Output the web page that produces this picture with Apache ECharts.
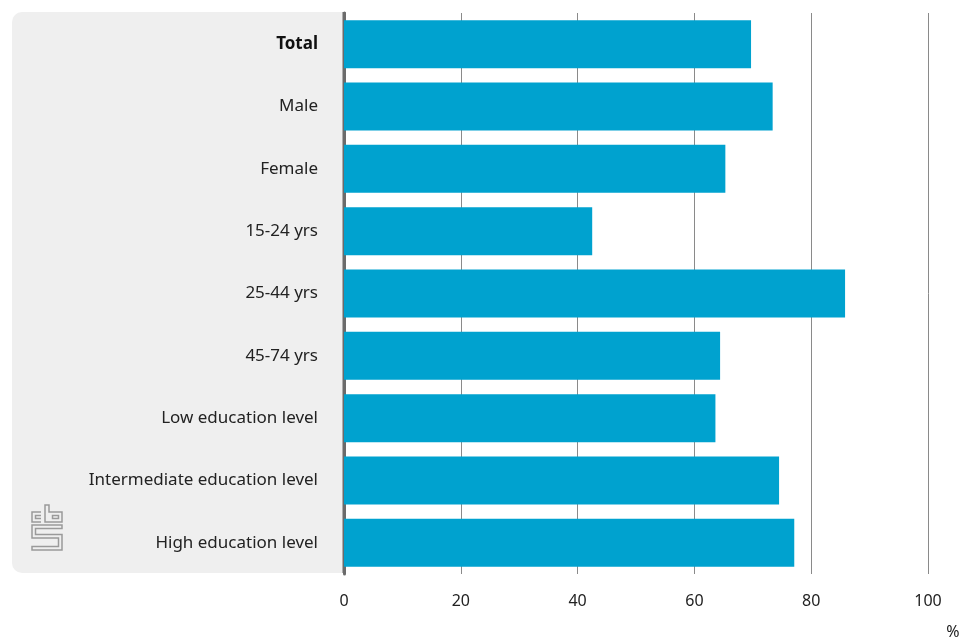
<!DOCTYPE html>
<html>
<head>
<meta charset="utf-8">
<script src="https://cdn.jsdelivr.net/npm/echarts@6/dist/echarts.min.js"></script>
<style>html,body{margin:0;padding:0;background:#fff}#c{width:963px;height:639px}</style>
</head>
<body>
<div id="c"></div>
<script>
const categories = ['Total','Male','Female','15-24 yrs','25-44 yrs','45-74 yrs','Low education level','Intermediate education level','High education level'];
const values = [69.7, 73.4, 65.3, 42.5, 85.8, 64.4, 63.6, 74.5, 77.1];
const xTicks = [0, 20, 40, 60, 80, 100];
const unitLabel = '%';

const chart = echarts.init(document.getElementById('c'), null, {renderer:'canvas'});
const FONT = 'Noto Sans';
const logoStyle = {stroke:'#9a9a9a', fill:'none', lineWidth:1.5};
chart.setOption({
  animation:false,
  backgroundColor:'#fff',
  grid:{left:344, right:35, top:13, bottom:65, containLabel:false},
  graphic:[
    {type:'rect', z:-10, shape:{x:12, y:12, width:334, height:561, r:[10,0,0,10]}, style:{fill:'#efefef'}},
    {type:'line', z:-5, shape:{x1:344, y1:12, x2:344, y2:573}, style:{stroke:'#6b6b6b', lineWidth:3}},
    {type:'polyline', z:5, shape:{points:[[41,512],[32,512],[32,522],[41,522]]}, style:logoStyle},
    {type:'polyline', z:5, shape:{points:[[41,515.5],[35.5,515.5],[35.5,518.5],[41,518.5]]}, style:logoStyle},
    {type:'polygon', z:5, shape:{points:[[45,505],[49,505],[49,512],[62,512],[62,522],[45,522]]}, style:logoStyle},
    {type:'rect', z:5, shape:{x:52.5, y:515.5, width:6, height:3}, style:logoStyle},
    {type:'polygon', z:5, shape:{points:[[62,525],[32,525],[32,538],[58.5,538],[58.5,546.5],[32,546.5],[32,550],[62,550],[62,534.5],[35.5,534.5],[35.5,528.5],[62,528.5]]}, style:logoStyle},
    {type:'text', z:5, style:{text:unitLabel, x:953, y:632, align:'center', verticalAlign:'middle', font:'16px "' + FONT + '"', fill:'#222'}}
  ],
  xAxis:{
    type:'value', min:xTicks[0], max:xTicks[xTicks.length-1], interval:20,
    axisLine:{show:false}, axisTick:{show:false},
    axisLabel:{margin:19, color:'#222', fontSize:16, fontFamily:FONT, formatter:v=>xTicks.includes(v)?String(v):''},
    splitLine:{show:true, lineStyle:{color:'#8a8a8a', width:1}}
  },
  yAxis:{
    type:'category', data:categories, inverse:true,
    axisLine:{show:true, lineStyle:{color:'#6b6b6b', width:3}},
    axisTick:{show:false},
    axisLabel:{margin:26, color:'#222', fontSize:17, fontFamily:FONT,
      formatter:(v,i)=> i===0 ? '{b|'+v+'}' : v,
      rich:{b:{fontWeight:'bold', fontSize:17, fontFamily:FONT, color:'#111'}}}
  },
  series:[{
    type:'bar', data:values, barWidth:48, z:3,
    itemStyle:{color:'#00a2cf'}
  }]
});
</script>
</body>
</html>
